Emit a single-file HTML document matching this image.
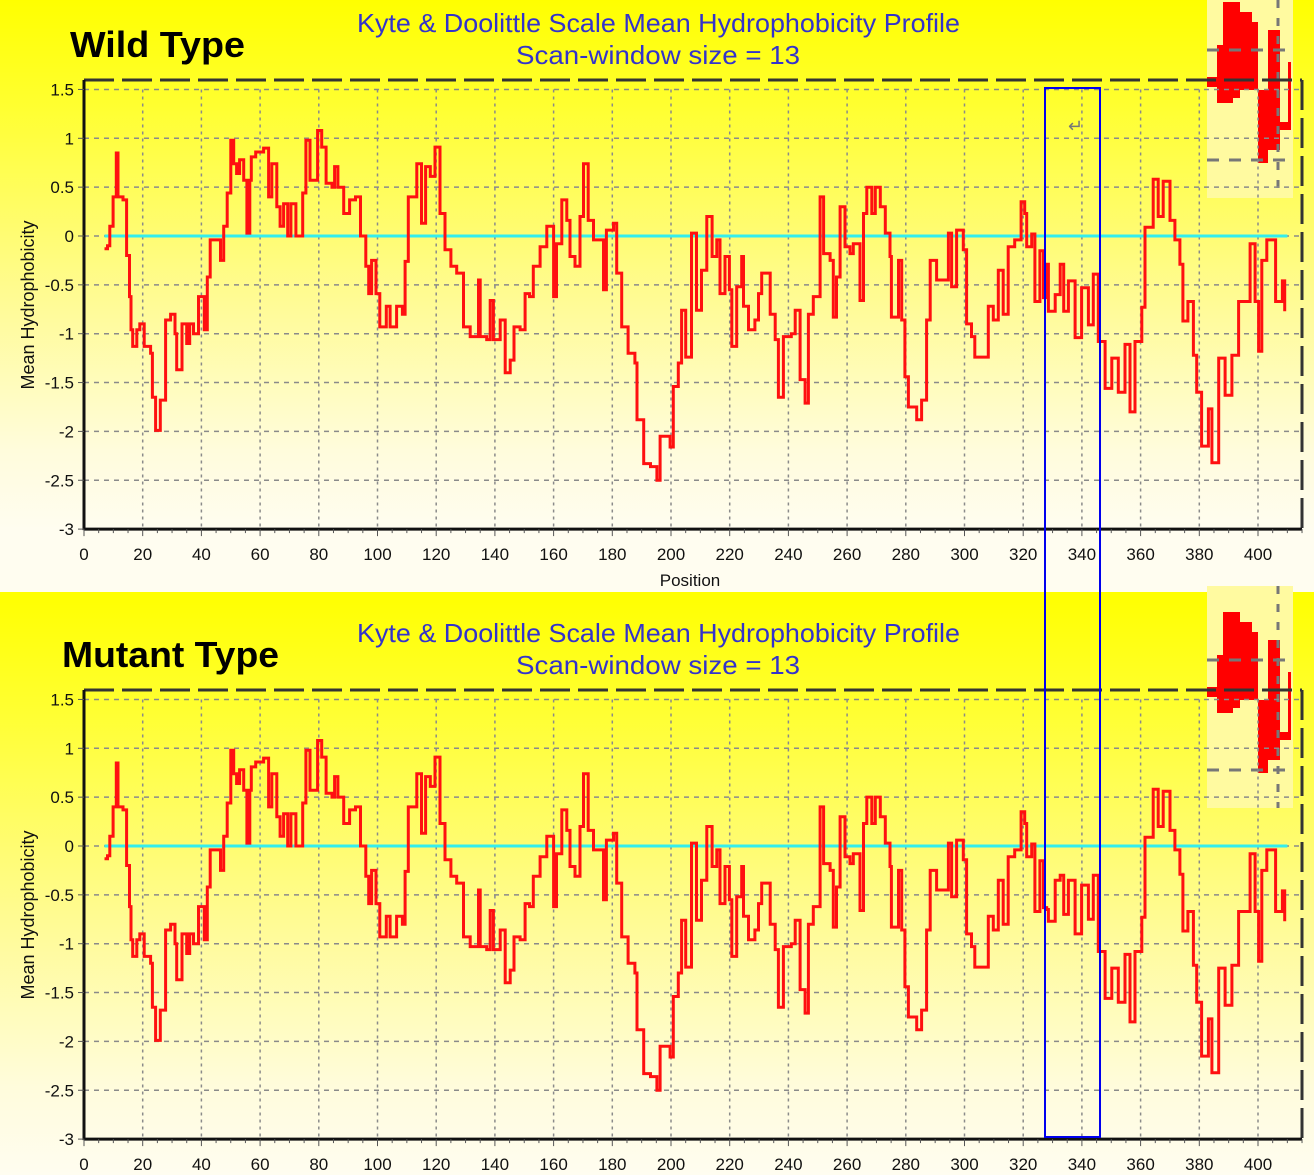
<!DOCTYPE html>
<html><head><meta charset="utf-8"><style>
html,body{margin:0;padding:0;background:#fff;}
svg{display:block;}
text{font-family:"Liberation Sans",sans-serif;}
</style></head><body>
<svg id="chart" width="1314" height="1175" viewBox="0 0 1314 1175" xmlns="http://www.w3.org/2000/svg">
<defs>
<linearGradient id="bg" x1="0" y1="0" x2="0" y2="1">
<stop offset="0" stop-color="#ffff00"/>
<stop offset="0.2" stop-color="#ffff30"/>
<stop offset="0.55" stop-color="#fffb90"/>
<stop offset="0.85" stop-color="#fffcdc"/>
<stop offset="1" stop-color="#fffdf0"/>
</linearGradient>
</defs>
<g id="panels"></g>
<rect x="1045" y="88" width="55" height="1049" fill="none" stroke="#0000ee" stroke-width="2"/>
<text x="1068" y="132" font-size="18" fill="#777">↵</text>
</svg>
<script>
// Positions (residue index) and mean hydrophobicity values
const positions = [7,8,8.8,9.9,11,11.6,13.3,14.5,15.5,16,16.6,18,19,20.5,22.7,23.3,24.4,26,27.8,29.5,31,31.6,33.4,35,36,37.3,39,41,42,43,46.5,47.6,48.8,50,51,52,53,54.4,55.5,56.5,57,58.5,61.2,62.9,64,65.7,66.8,68,69.4,70.5,72.2,74.5,75.6,77,79.6,81,82.5,84.5,85.4,86.5,88.5,90.5,92.5,94.2,96,97,98,99.5,100.8,103,104.3,106.5,108.5,109.4,110.5,113.4,115,116.4,118,119.6,121.3,123,125,127,129.3,131.6,134.4,135,137.2,138.4,139.5,141.8,143.5,145.2,146.5,148.6,150.3,151.8,153.1,155.4,157.7,160,161,162.8,164.5,165.6,167.3,169,170.2,171.8,173.6,176,177,178,180.4,181.5,183.2,185.4,187.7,188.4,190.7,193,195.2,196.3,199.7,200.8,202.5,203.6,205,207,208.7,210.4,212.2,214,215.6,216.7,218.4,219.9,220.7,222.4,224.1,224.7,226.4,228.6,229.8,230.9,233.8,235.5,236.6,238.3,241,242.3,244,245.7,246.8,248.5,250.8,252,254.2,255.3,256.4,257.6,259.3,261,262.1,264.4,265.6,266.7,268.4,269.6,271.3,273,274.6,275.1,277.5,278.6,279.7,280.9,283.7,285.4,287.1,288.3,290.5,293.3,294.5,295.6,297.3,299.6,300.7,302.4,303.5,306.4,308.1,309.8,311.5,313.2,314.9,317.1,319.3,320.5,321.2,322.9,324,325.7,326.9,328,328.6,330.9,332.6,333.8,335.4,337.7,339.9,342.2,343.9,345.6,347.9,350.2,352.4,354.7,356.4,358.1,360.4,361.5,364.3,366,367.7,370,371.7,373.4,374.4,376.1,378,379.1,380.8,383.1,384.3,386.6,388.8,391.1,393.4,395.7,397.3,399,400.2,401.3,403,404.7,406,408.3,409.1];
const wildValues = [-0.13,-0.1,0.1,0.4,0.85,0.4,0.37,-0.2,-0.62,-0.96,-1.13,-0.96,-0.9,-1.13,-1.2,-1.65,-1.99,-1.68,-0.86,-0.8,-1.0,-1.37,-0.9,-1.1,-0.9,-1.0,-0.62,-0.96,-0.42,-0.04,-0.25,0.1,0.44,0.98,0.74,0.64,0.78,0.57,0.03,0.57,0.81,0.86,0.9,0.4,0.74,0.3,0.1,0.33,0,0.33,0,0.44,0.98,0.57,1.08,0.91,0.54,0.5,0.71,0.5,0.23,0.37,0.4,0,-0.31,-0.59,-0.25,-0.59,-0.93,-0.72,-0.93,-0.72,-0.8,-0.26,0.4,0.74,0.13,0.71,0.61,0.91,0.23,-0.14,-0.31,-0.38,-0.93,-1.03,-0.45,-1.03,-1.06,-0.66,-1.06,-0.86,-1.4,-1.27,-0.93,-0.96,-0.59,-0.62,-0.31,-0.11,0.1,-0.62,-0.08,0.37,0.16,-0.21,-0.31,0.2,0.74,0.16,-0.04,-0.04,-0.55,0.06,0.13,-0.38,-0.93,-1.2,-1.3,-1.88,-2.33,-2.36,-2.5,-2.05,-2.16,-1.54,-1.3,-0.76,-1.24,0.03,-0.76,-0.35,0.2,-0.21,-0.04,-0.59,-0.21,-0.55,-1.13,-0.52,-0.21,-0.72,-0.96,-0.86,-0.59,-0.38,-0.8,-1.06,-1.65,-1.03,-1.0,-0.76,-1.47,-1.71,-0.8,-0.62,0.4,-0.18,-0.25,-0.83,-0.42,0.3,-0.11,-0.18,-0.08,-0.66,0.23,0.5,0.23,0.5,0.3,0.03,-0.21,-0.83,-0.25,-0.86,-1.44,-1.75,-1.88,-1.68,-0.86,-0.25,-0.45,-0.45,0.03,-0.52,0.06,-0.14,-0.9,-1.03,-1.24,-1.24,-0.72,-0.86,-0.35,-0.8,-0.11,-0.04,0.35,0.23,-0.11,0.02,-0.67,-0.15,-0.63,-0.29,-0.77,-0.6,-0.29,-0.77,-0.46,-1.04,-0.53,-0.91,-0.39,-1.08,-1.56,-1.25,-1.6,-1.11,-1.8,-1.08,-0.73,0.09,0.58,0.2,0.56,0.16,-0.04,-0.29,-0.87,-0.67,-1.22,-1.6,-2.15,-1.77,-2.32,-1.25,-1.63,-1.22,-0.67,-0.67,-0.08,-0.67,-1.18,-0.25,-0.04,-0.04,-0.67,-0.46,-0.77];
const mutantValues = wildValues.map(v=>v);
// mutant differences in the 328-346 window
const mutantPatch = {328:-0.65,330.9:-0.35,332.6:-0.3,333.8:-0.7,335.4:-0.35,337.7:-0.9,339.9:-0.4,342.2:-0.75,343.9:-0.3};
positions.forEach((p,i)=>{ if(mutantPatch[p]!==undefined) mutantValues[i]=mutantPatch[p]; });
const xTicks = [0,20,40,60,80,100,120,140,160,180,200,220,240,260,280,300,320,340,360,380,400];
const yTicks = [1.5,1,0.5,0,-0.5,-1,-1.5,-2,-2.5,-3];

const NS='http://www.w3.org/2000/svg';
const root=document.getElementById('panels');
function mk(tag,attrs,parent){const e=document.createElementNS(NS,tag);for(const k in attrs)e.setAttribute(k,attrs[k]);(parent||root).appendChild(e);return e;}
const X0=84, XS=2.935;
function xs(p){return X0+XS*p;}

function panel(off,label,vals,showPos,key){
  const g=mk('g',{});
  
  
  const zeroY=236+off;
  function ys(v){return zeroY-97.7*v;}
  const bgTop = off===0?0:592, bgH = off===0?530:583;
  const bg=mk('rect',{x:0,y:bgTop,width:1314,height:bgH,fill:'url(#bg)'},g);
  
  
  if(off===0){const pale=mk('rect',{x:0,y:530,width:1314,height:62,fill:'#fffdf0'},g);
    
    }
  // inset zoom decoration
  const ins=mk('g',{},g);
  
  
  const io=off-610;
  const it=Math.max(0,586+io);
  mk('rect',{x:1207,y:it,width:86,height:808+io-it,fill:'#fffaa0'},ins);
  const rr=[[1207,687,15,10],[1217,655,16,58],[1223,612,17,96],[1240,622,12,78],[1250,632,8,68],[1258,700,10,73],[1268,640,12,120],[1268,732,22,8],[1288,672,3,68]];
  rr.forEach(r=>{const y=Math.max(0,r[1]+io);const h=r[1]+io+r[3]-y;if(h>0)mk('rect',{x:r[0],y:y,width:r[2],height:h,fill:'#ff0000'},ins);});
  mk('line',{x1:1207,y1:660+io,x2:1293,y2:660+io,stroke:'#777',"stroke-width":3,"stroke-dasharray":"12 10"},ins);
  mk('line',{x1:1207,y1:770+io,x2:1293,y2:770+io,stroke:'#777',"stroke-width":3,"stroke-dasharray":"12 10"},ins);
  mk('line',{x1:1278,y1:Math.max(0,586+io),x2:1278,y2:808+io,stroke:'#777',"stroke-width":3,"stroke-dasharray":"8 10"},ins);
  // grid
  xTicks.forEach(t=>{if(t===0)return;const l=mk('line',{x1:xs(t),y1:ys(1.5),x2:xs(t),y2:ys(-3),stroke:'#8a8a8a',"stroke-width":1.5,"stroke-dasharray":"3 4"},g);
    
    });
  yTicks.forEach(t=>{if(t===-3)return;const l=mk('line',{x1:X0,y1:ys(t),x2:1300,y2:ys(t),stroke:'#8a8a8a',"stroke-width":1.5,"stroke-dasharray":"5 5"},g);
    
    });
  // frame
  mk('line',{x1:X0,y1:80+off,x2:1302,y2:80+off,stroke:'#333',"stroke-width":3,"stroke-dasharray":"30 8"},g);
  mk('line',{x1:1302,y1:80+off,x2:1302,y2:ys(-3),stroke:'#333',"stroke-width":3,"stroke-dasharray":"30 8"},g);
  const ax=mk('line',{x1:X0,y1:80+off,x2:X0,y2:ys(-3)+1,stroke:'#111',"stroke-width":3},g);
  
  
  const bx=mk('line',{x1:X0,y1:ys(-3),x2:1302,y2:ys(-3),stroke:'#111',"stroke-width":3},g);
  
  
  for(let t=0;t<=415;t+=5){mk('line',{x1:xs(t),y1:ys(-3),x2:xs(t),y2:ys(-3)+(t%20===0?7:4),stroke:'#555',"stroke-width":1},g);}
  yTicks.forEach(t=>{const tx=mk('text',{x:74,y:ys(t)+6,"text-anchor":"end","font-size":17,fill:'#111'},g);tx.textContent=String(t);
    
    
    mk('line',{x1:X0-6,y1:ys(t),x2:X0,y2:ys(t),stroke:'#555',"stroke-width":1},g);});
  xTicks.forEach(t=>{const tx=mk('text',{x:xs(t),y:ys(-3)+31,"text-anchor":"middle","font-size":17,fill:'#111'},g);tx.textContent=String(t);
    
    });
  // zero line
  const z=mk('line',{x1:xs(7),y1:zeroY,x2:xs(410),y2:zeroY,stroke:'#33eeee',"stroke-width":3},g);
  
  
  // series (step style)
  let d='';positions.forEach((p,i)=>{
    if(i===0){d+='M'+xs(p).toFixed(1)+' '+ys(vals[i]).toFixed(1);}
    else{d+='H'+xs(p).toFixed(1)+'V'+ys(vals[i]).toFixed(1);}
  });
  const s=mk('path',{d:d,fill:'none',stroke:'#ff1010',"stroke-width":3,"stroke-linejoin":"miter"},g);
  
  
  // titles
  const t1=mk('text',{x:357,y:32+off,"font-size":26,fill:'#3333cc',textLength:603,lengthAdjust:'spacingAndGlyphs'},g);t1.textContent='Kyte & Doolittle Scale Mean Hydrophobicity Profile';
  
  
  const t2=mk('text',{x:516,y:64+off,"font-size":26,fill:'#3333cc',textLength:284,lengthAdjust:'spacingAndGlyphs'},g);t2.textContent='Scan-window size = 13';
  
  
  const lb=mk('text',{x:off===0?70:62,y:57+off,"font-size":36,"font-weight":"bold",fill:'#000',textLength:off===0?175:217,lengthAdjust:'spacingAndGlyphs'},g);lb.textContent=label;
  
  
  const yt=mk('text',{x:0,y:0,"text-anchor":"middle","font-size":18,fill:'#111',transform:`translate(34 ${305+off}) rotate(-90)`},g);yt.textContent='Mean  Hydrophobicity';
  
  
  if(showPos){const px=mk('text',{x:690,y:586,"text-anchor":"middle","font-size":17,fill:'#111'},g);px.textContent='Position';
    
    }
}
panel(0,'Wild Type',wildValues,true,'wild-type');
panel(610,'Mutant Type',mutantValues,false,'mutant-type');
</script>
</body></html>
